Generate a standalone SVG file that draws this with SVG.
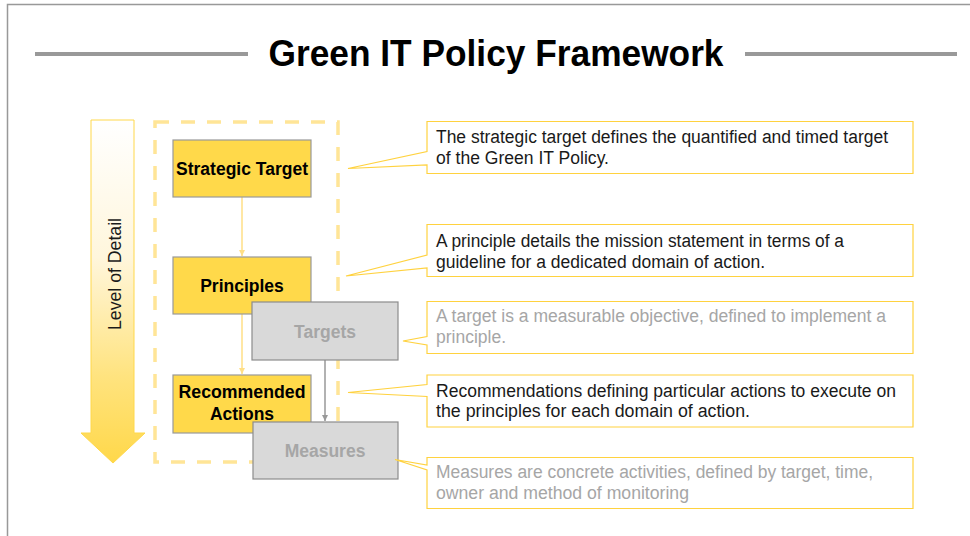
<svg xmlns="http://www.w3.org/2000/svg" width="970" height="536" viewBox="0 0 970 536">
<defs>
<linearGradient id="lod" x1="0" y1="120" x2="0" y2="463" gradientUnits="userSpaceOnUse">
<stop offset="0" stop-color="#FFFFFF"/>
<stop offset="0.4" stop-color="#FFF6DC"/>
<stop offset="0.75" stop-color="#FFE37E"/>
<stop offset="1" stop-color="#FFD84A"/>
</linearGradient>
<marker id="ay" viewBox="0 0 10 10" refX="10" refY="5" markerWidth="6" markerHeight="6" markerUnits="userSpaceOnUse" orient="auto"><path d="M0,0 L10,5 L0,10 Z" fill="#FFDF86"/></marker>
<marker id="ag" viewBox="0 0 10 10" refX="10" refY="5" markerWidth="6" markerHeight="6" markerUnits="userSpaceOnUse" orient="auto"><path d="M0,0 L10,5 L0,10 Z" fill="#999999"/></marker>
</defs>
<style>
.gold{fill:#FFD94A;stroke:#999999;stroke-width:1.2}
.grey{fill:#D9D9D9;stroke:#8C8C8C;stroke-width:1.2}
.bt{font-family:"Liberation Sans",Arial,sans-serif;font-weight:bold;font-size:17.5px;text-anchor:middle;fill:#000}
.gt{fill:#A6A6A6}
.call{fill:#FFFFFF;stroke:#FFD23F;stroke-width:1.2}
.ct{font-family:"Liberation Sans",Arial,sans-serif;font-size:18px;fill:#1A1A1A}
.cg{fill:#A6A6A6}
</style>
<rect width="970" height="536" fill="#FFFFFF"/>
<path d="M7.5,536 V4.5 H970" fill="none" stroke="#999999" stroke-width="1.5"/>
<g id="title">
<line x1="35" y1="54" x2="248" y2="54" stroke="#999999" stroke-width="4"/>
<line x1="745" y1="54" x2="957" y2="54" stroke="#999999" stroke-width="4"/>
<text x="496" y="66" font-family="Liberation Sans,Arial,sans-serif" font-weight="bold" font-size="36" text-anchor="middle" textLength="455" lengthAdjust="spacingAndGlyphs">Green IT Policy Framework</text>
</g>
<g id="level-of-detail">
<path d="M91,120 H134 V433 H145 L113,463 L81,433 H91 Z" fill="url(#lod)" stroke="#FFD84A" stroke-width="1"/>
<text transform="translate(121,274) rotate(-90)" font-family="Liberation Sans,Arial,sans-serif" font-size="18" text-anchor="middle" fill="#1A1A1A" textLength="112" lengthAdjust="spacingAndGlyphs">Level of Detail</text>
</g>
<g id="frame">
<rect x="155" y="122" width="183" height="340" fill="none" stroke="#FFE597" stroke-width="3.5" stroke-dasharray="14 12"/>
</g>
<g id="connectors">
<line x1="242" y1="197" x2="242" y2="256" stroke="#FFDF86" stroke-width="1.5" marker-end="url(#ay)"/>
<line x1="242" y1="314" x2="242" y2="374" stroke="#FFDF86" stroke-width="1.5" marker-end="url(#ay)"/>
<line x1="325" y1="360" x2="325" y2="421" stroke="#999999" stroke-width="1.5" marker-end="url(#ag)"/>
</g>
<g id="strategic-target">
<rect class="gold" x="173" y="140" width="138" height="57"/>
<text class="bt" x="242" y="175" textLength="132" lengthAdjust="spacingAndGlyphs">Strategic Target</text>
</g>
<g id="principles">
<rect class="gold" x="173" y="257" width="138" height="57"/>
<text class="bt" x="242" y="292">Principles</text>
</g>
<g id="targets">
<rect class="grey" x="252" y="302" width="146" height="58"/>
<text class="bt gt" x="325" y="338">Targets</text>
</g>
<g id="recommended-actions">
<rect class="gold" x="173" y="375" width="138" height="58"/>
<text class="bt" x="242" y="398" textLength="127" lengthAdjust="spacingAndGlyphs">Recommended</text>
<text class="bt" x="242" y="420">Actions</text>
</g>
<g id="measures">
<rect class="grey" x="253" y="422" width="145" height="57"/>
<text class="bt gt" x="325" y="457">Measures</text>
</g>
<g id="callout-strategic">
<path class="call" d="M427,121.5 H913 V173.5 H427 V165 L348,168.5 L427,151.5 Z"/>
<text class="ct" x="436" y="143" textLength="452" lengthAdjust="spacingAndGlyphs">The strategic target defines the quantified and timed target</text>
<text class="ct" x="436" y="164" textLength="173" lengthAdjust="spacingAndGlyphs">of the Green IT Policy.</text>
</g>
<g id="callout-principles">
<path class="call" d="M427,224.5 H913 V276.5 H427 V268 L346,276 L427,255 Z"/>
<text class="ct" x="436" y="247" textLength="408" lengthAdjust="spacingAndGlyphs">A principle details the mission statement in terms of a</text>
<text class="ct" x="436" y="268" textLength="329" lengthAdjust="spacingAndGlyphs">guideline for a dedicated domain of action.</text>
</g>
<g id="callout-targets">
<path class="call" d="M427,301.5 H913 V353.5 H427 V345 L403,341 L427,336.5 Z"/>
<text class="ct cg" x="436" y="322" textLength="450" lengthAdjust="spacingAndGlyphs">A target is a measurable objective, defined to implement a</text>
<text class="ct cg" x="436" y="343" textLength="70" lengthAdjust="spacingAndGlyphs">principle.</text>
</g>
<g id="callout-recommended">
<path class="call" d="M427,375 H913 V427 H427 V396.5 L348,392.5 L427,384.5 Z"/>
<text class="ct" x="436" y="397" textLength="460" lengthAdjust="spacingAndGlyphs">Recommendations defining particular actions to execute on</text>
<text class="ct" x="436" y="417" textLength="314" lengthAdjust="spacingAndGlyphs">the principles for each domain of action.</text>
</g>
<g id="callout-measures">
<path class="call" d="M427,457.5 H913 V508.5 H427 V470 L395,459.5 L427,465 Z"/>
<text class="ct cg" x="436" y="478" textLength="437" lengthAdjust="spacingAndGlyphs">Measures are concrete activities, defined by target, time,</text>
<text class="ct cg" x="436" y="499" textLength="253" lengthAdjust="spacingAndGlyphs">owner and method of monitoring</text>
</g>
</svg>
